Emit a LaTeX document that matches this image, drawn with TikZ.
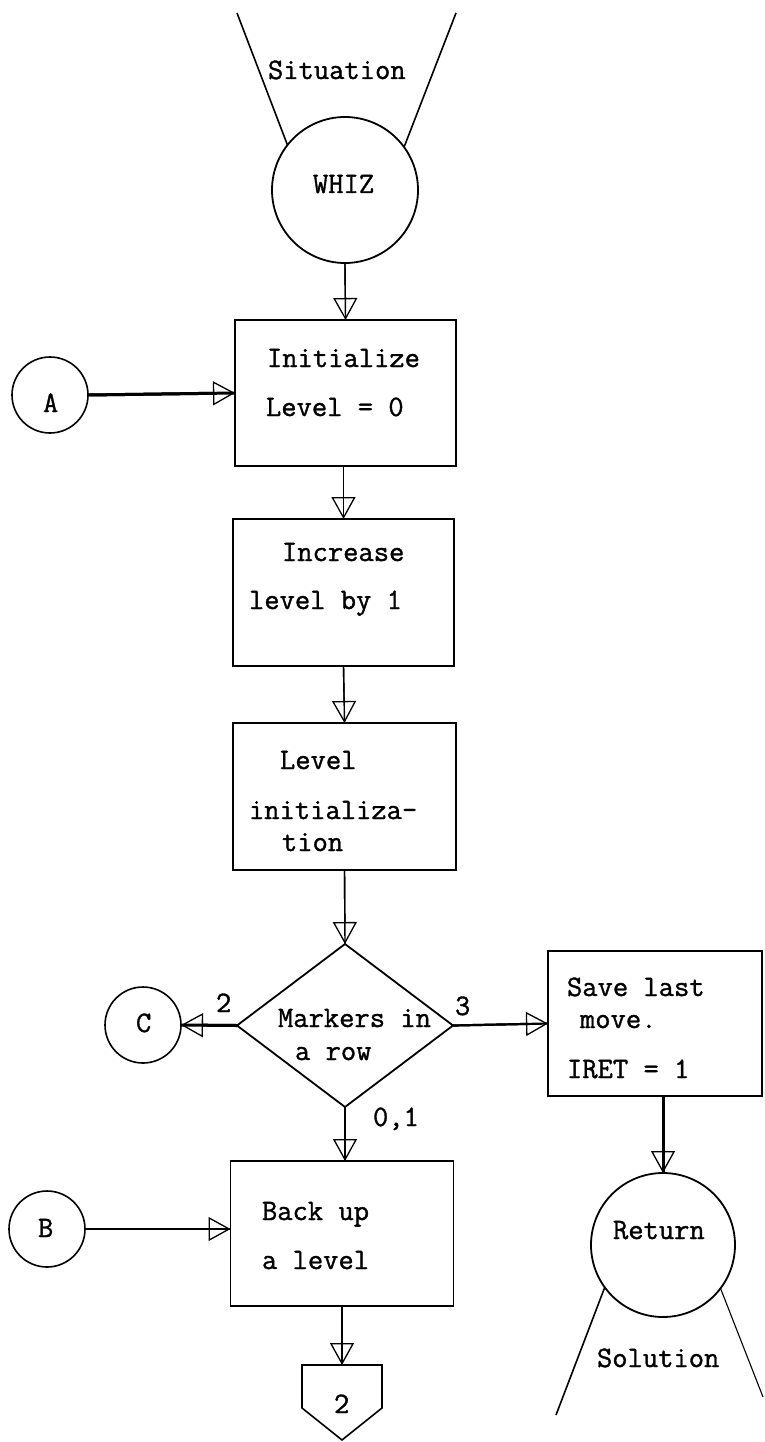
\documentclass[tikz,border=0pt]{standalone}
\usepackage{fontspec}
\newfontfamily\typewriter{Latin Modern Mono}[FakeBold=1.2]
\usetikzlibrary{arrows.meta,shapes.geometric}
\begin{document}
\begin{tikzpicture}[x=1pt,y=-1pt,
  every node/.style={font=\fontsize{29.7}{34}\selectfont\typewriter, inner sep=0pt, outer sep=0pt},
  txt/.style={anchor=base west},
  procbox/.style={draw, rectangle, line width=1.8pt},
  conncirc/.style={draw, circle, line width=1.6pt, minimum size=76pt},
  termcirc/.style={draw, circle, line width=1.8pt},
  flow/.style={line width=1.4pt, postaction={draw, -{Triangle[open, length=22pt, width=24pt, line width=1.3pt]}}},
  thickflow/.style={flow, line width=3pt},
  outline/.style={line width=1.6pt}]
\useasboundingbox (0,0) rectangle (764,1442);

% terminal circles
\node[termcirc, minimum size=146pt] (whiz) at (345,190) {};
\node[termcirc, minimum size=144pt] (ret) at (663,1245) {};

% connectors
\node[conncirc] (A) at (50,395) {};
\node[conncirc] (B) at (47,1229) {};
\node[conncirc] (C) at (143,1025) {};

% process boxes
\node[procbox, minimum width=221pt, minimum height=146pt] (init) at (345.5,393) {};
\node[procbox, minimum width=221pt, minimum height=147pt] (inc) at (343.5,592.5) {};
\node[procbox, minimum width=223pt, minimum height=147pt] (levinit) at (344.5,796.5) {};
\node[draw, diamond, line width=1.8pt, minimum width=216pt, minimum height=163pt] (dia) at (345,1025.5) {};
\node[procbox, minimum width=214pt, minimum height=145pt] (save) at (655,1023.5) {};
\node[procbox, minimum width=223pt, minimum height=145pt] (back) at (342,1233.5) {};

% off-page connector
\coordinate (off) at (342,1365);
\draw[outline] (302,1365) -- (382,1365) -- (382,1408) -- (342,1440) -- (302,1408) -- cycle;

% funnels
\draw[outline] (237,13) -- (whiz.142);
\draw[outline] (456,13) -- (whiz.36);
\draw[outline] (ret.216) -- (556,1415);
\draw[line width=1.1pt] (ret.323) -- (763,1397);

% texts
\node[txt] at (268,79) {Situation};
\node[txt] at (313,193) {WHIZ};
\node[txt] at (43,412) {A};
\node[txt] at (267,367) {Initialize};
\node[txt] at (266,416) {Level = 0};
\node[txt] at (282,561) {Increase};
\node[txt] at (249,609) {level by 1};
\node[txt] at (280,769) {Level};
\node[txt] at (249,819) {initializa-};
\node[txt] at (282,851) {tion};
\node[txt] at (278,1027) {Markers in};
\node[txt] at (295,1060) {a row};
\node[txt] at (216,1012) {2};
\node[txt] at (455,1015) {3};
\node[txt] at (136,1032) {C};
\node[txt] at (373,1126) {0,1};
\node[txt] at (567,996) {Save last};
\node[txt] at (580,1028) {move.};
\node[txt] at (567,1078) {IRET = 1};
\node[txt] at (613,1239) {Return};
\node[txt] at (597,1367) {Solution};
\node[txt] at (38,1237) {B};
\node[txt] at (262,1220) {Back up};
\node[txt] at (262,1269) {a level};
\node[txt] at (334,1413) {2};

% flow lines
\draw[flow] (whiz.south) -- (init.north);
\draw[thickflow] (A.east) -- (init.west);
\draw[flow] (init.south -| inc.north) -- (inc.north);
\draw[flow] (inc.south) -- (levinit.north);
\draw[flow] (levinit.south) -- (dia.north);
\draw[thickflow] (dia.west) -- (C.east);
\draw[flow, line width=2.2pt] (dia.east) -- (save.west);
\draw[flow] (dia.south) -- (dia.south |- back.north);
\draw[flow] (B.east) -- (B.east -| back.west);
\draw[thickflow] (ret.north |- save.south) -- (ret.north);
\draw[flow] (back.south) -- (off);
\end{tikzpicture}
\end{document}
